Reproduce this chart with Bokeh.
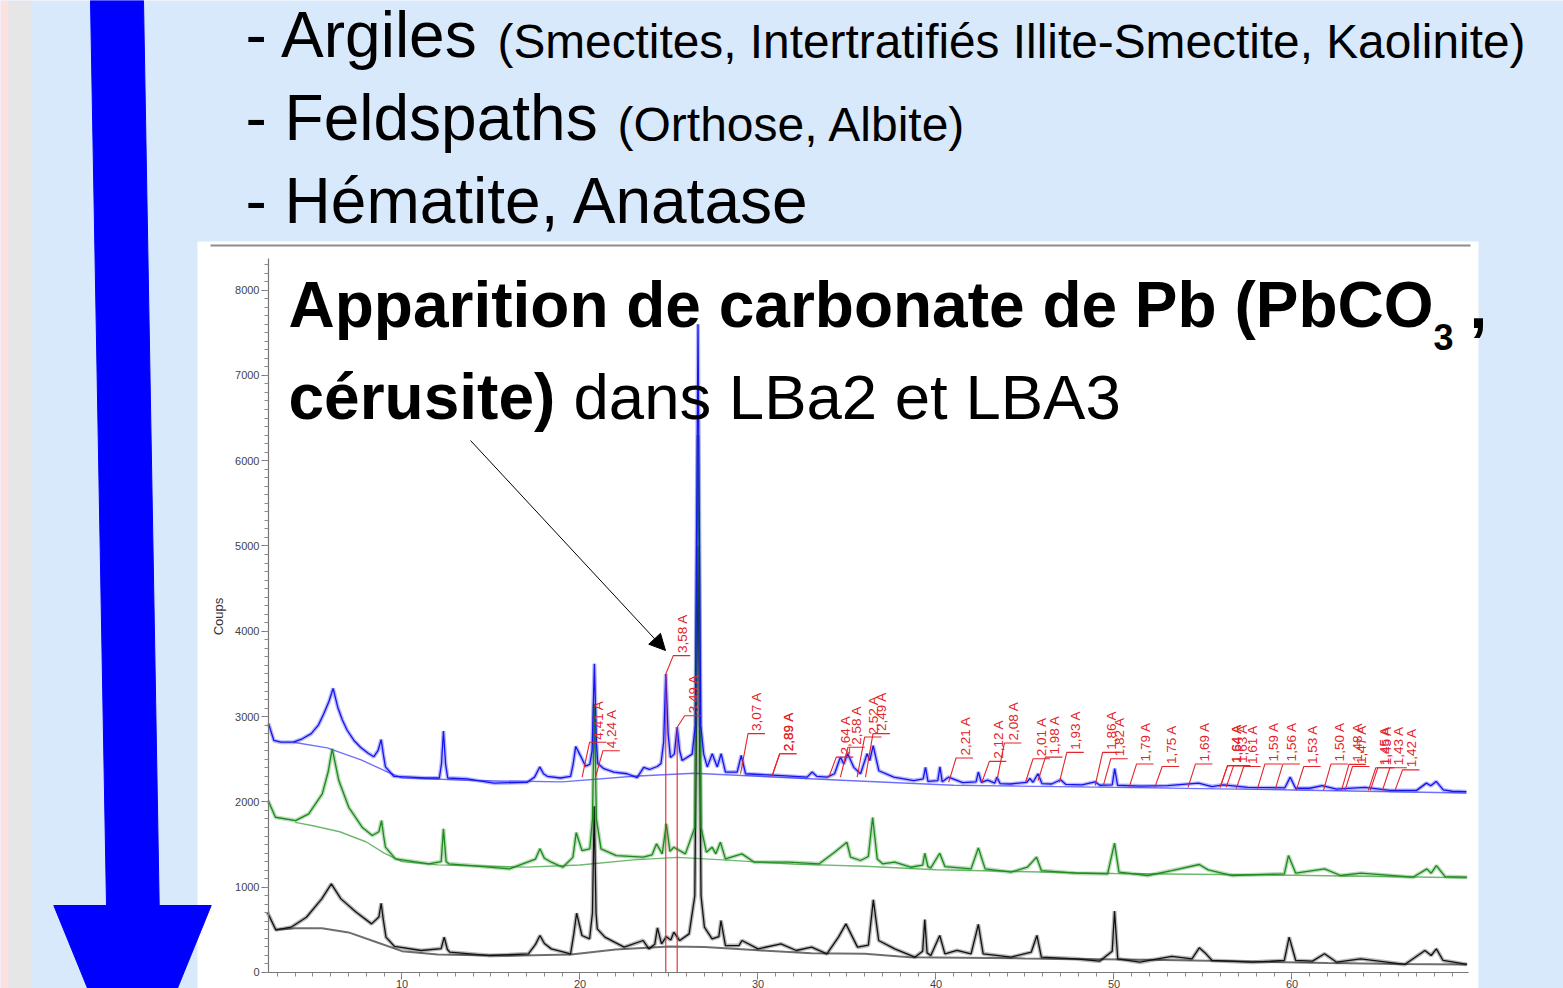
from math import pi
from bokeh.plotting import figure
from bokeh.models import Range1d, LinearAxis, FixedTicker, Arrow, NormalHead
from bokeh.core.properties import value
from bokeh.embed import file_html
from bokeh.resources import INLINE

# ---------------- data (2-theta in degrees, counts) ----------------
blue_pts = [(2.50, 2920), (2.80, 2720), (3.20, 2700), (3.90, 2700), (4.40, 2740), (4.90, 2800), (5.30, 2900),
            (5.60, 3030), (5.90, 3180), (6.13, 3330), (6.39, 3110), (6.65, 2960), (6.92, 2840), (7.30, 2720),
            (7.67, 2640), (8.10, 2570), (8.42, 2530), (8.65, 2600), (8.83, 2730), (8.95, 2560), (9.07, 2410),
            (9.54, 2300), (10.48, 2290), (11.30, 2280), (12.10, 2280), (12.22, 2450), (12.33, 2830), (12.45, 2440),
            (12.57, 2280), (13.66, 2270), (15.16, 2220), (17.03, 2230), (17.45, 2290), (17.74, 2410), (17.95, 2330),
            (18.16, 2300), (18.90, 2280), (19.47, 2300), (19.62, 2450), (19.76, 2650), (20.03, 2540), (20.31, 2420),
            (20.55, 2440), (20.68, 2600), (20.81, 3620), (20.92, 2700), (21.00, 2450), (21.34, 2390), (21.90, 2350),
            (22.65, 2330), (23.21, 2285), (23.58, 2405), (23.90, 2380), (24.34, 2415), (24.55, 2450), (24.70, 2700),
            (24.82, 3500), (24.95, 2800), (25.08, 2520), (25.30, 2560), (25.46, 2875), (25.60, 2600), (25.74, 2485),
            (26.30, 2560), (26.48, 2900), (26.63, 7600), (26.78, 2900), (26.95, 2560), (27.15, 2410), (27.43, 2565),
            (27.71, 2410), (27.93, 2565), (28.17, 2350), (28.83, 2350), (29.06, 2545), (29.30, 2330), (31.08, 2310),
            (32.76, 2290), (33.04, 2350), (33.30, 2300), (33.89, 2290), (34.30, 2330), (34.63, 2525), (34.82, 2445),
            (35.04, 2565), (35.38, 2405), (35.76, 2330), (36.13, 2565), (36.28, 2485), (36.47, 2660), (36.79, 2365),
            (37.63, 2290), (38.75, 2250), (39.28, 2270), (39.41, 2405), (39.55, 2240), (40.10, 2250), (40.22, 2410),
            (40.35, 2235), (40.70, 2290), (41.50, 2225), (42.25, 2235), (42.38, 2350), (42.55, 2230), (42.90, 2255),
            (43.30, 2220), (43.42, 2290), (43.60, 2215), (44.20, 2210), (45.10, 2230), (45.27, 2275), (45.45, 2230),
            (45.73, 2330), (45.95, 2215), (46.50, 2210), (47.00, 2260), (47.30, 2205), (48.20, 2200), (48.94, 2235),
            (49.20, 2195), (49.90, 2200), (50.04, 2390), (50.20, 2195), (51.50, 2185), (53.00, 2190), (54.75, 2220),
            (55.50, 2180), (56.15, 2200), (57.50, 2170), (59.60, 2165), (59.90, 2290), (60.20, 2160), (61.00, 2160),
            (61.70, 2190), (62.50, 2150), (64.10, 2170), (65.50, 2135), (67.00, 2135), (67.55, 2220), (67.80, 2190),
            (68.10, 2240), (68.50, 2140), (69.00, 2125), (69.80, 2120)]

green_pts = [(2.48, 2016), (2.89, 1820), (4.02, 1781), (4.76, 1860), (5.52, 2094), (5.85, 2350), (6.08, 2622),
             (6.45, 2250), (7.01, 1937), (7.76, 1703), (8.33, 1606), (8.70, 1650), (8.85, 1781), (8.97, 1600),
             (9.07, 1469), (9.63, 1332), (11.51, 1274), (12.20, 1300), (12.33, 1684), (12.48, 1300), (12.63, 1274),
             (13.88, 1254), (16.03, 1215), (17.50, 1330), (17.75, 1450), (18.00, 1340), (18.39, 1293), (19.03, 1234),
             (19.60, 1350), (19.79, 1640), (20.11, 1430), (20.55, 1450), (20.70, 1800), (20.81, 3150), (20.92, 1800),
             (21.18, 1450), (22.04, 1371), (23.55, 1352), (24.05, 1380), (24.30, 1508), (24.62, 1391), (24.85, 1743),
             (25.05, 1420), (25.27, 1469), (25.92, 1391), (26.45, 1700), (26.63, 6300), (26.80, 1700), (27.10, 1410),
             (27.42, 1469), (27.63, 1391), (27.89, 1527), (28.17, 1332), (29.10, 1391), (29.79, 1293), (31.72, 1293),
             (33.44, 1274), (34.30, 1410), (34.99, 1527), (35.20, 1352), (35.76, 1313), (36.20, 1360), (36.44, 1817),
             (36.70, 1330), (37.00, 1274), (37.68, 1293), (38.58, 1234), (39.25, 1260), (39.37, 1398), (39.55, 1240),
             (39.71, 1227), (40.21, 1398), (40.50, 1242), (41.97, 1215), (42.38, 1461), (42.76, 1215), (44.22, 1176),
             (45.13, 1234), (45.65, 1352), (45.92, 1195), (47.84, 1164), (49.64, 1157), (50.03, 1516), (50.28, 1176),
             (51.90, 1137), (53.25, 1195), (54.79, 1266), (55.29, 1203), (56.64, 1137), (59.57, 1157), (59.80, 1371),
             (60.21, 1164), (61.83, 1215), (62.73, 1137), (63.86, 1164), (66.80, 1117), (67.58, 1215), (67.82, 1164),
             (68.11, 1254), (68.60, 1125), (69.84, 1117)]

black_pts = [(2.44, 707), (2.91, 500), (3.77, 531), (4.63, 648), (5.49, 863), (6.03, 1039), (6.57, 863),
             (7.43, 707), (8.29, 570), (8.70, 650), (8.83, 812), (8.95, 620), (9.10, 414), (9.58, 305),
             (11.08, 258), (12.20, 280), (12.37, 414), (12.55, 270), (12.69, 238), (14.95, 199), (17.10, 219),
             (17.50, 330), (17.75, 434), (18.00, 340), (18.39, 277), (19.47, 219), (19.65, 450), (19.81, 695),
             (20.11, 434), (20.54, 395), (20.70, 700), (20.80, 1950), (20.90, 700), (20.97, 512), (21.40, 414),
             (22.48, 297), (23.55, 375), (23.87, 277), (24.20, 330), (24.35, 524), (24.58, 336), (24.85, 420),
             (25.10, 380), (25.27, 473), (25.60, 375), (26.13, 453), (26.45, 900), (26.63, 5000), (26.80, 900),
             (26.99, 531), (27.42, 395), (27.80, 420), (27.92, 609), (28.17, 316), (28.93, 316), (29.10, 375),
             (30.00, 277), (31.29, 336), (32.15, 258), (33.01, 297), (33.87, 219), (34.52, 414), (34.94, 570),
             (35.59, 297), (36.20, 320), (36.48, 852), (36.78, 375), (37.68, 277), (38.81, 180), (39.25, 250),
             (39.37, 621), (39.50, 230), (39.71, 199), (40.21, 434), (40.50, 219), (41.18, 258), (41.97, 219),
             (42.38, 563), (42.65, 219), (44.22, 180), (45.35, 238), (45.67, 434), (45.92, 180), (47.84, 160),
             (49.19, 133), (49.90, 250), (50.03, 719), (50.21, 160), (51.45, 121), (53.25, 188), (54.38, 160),
             (54.79, 289), (55.17, 219), (55.51, 141), (57.77, 121), (59.57, 141), (59.84, 414), (60.21, 141),
             (61.15, 133), (61.83, 219), (62.51, 121), (63.86, 160), (66.34, 94), (67.47, 258), (67.82, 199),
             (68.11, 277), (68.49, 141), (69.84, 94)]

blue_bg = [(3.9, 2700), (5.8, 2633), (7.7, 2493), (9.2, 2348), (10.0, 2282), (14.0, 2250), (19.0, 2235),
           (23.0, 2300), (26.4, 2336), (30.0, 2300), (35.0, 2250), (41.0, 2195), (50.0, 2170), (60.0, 2140),
           (69.8, 2105)]
green_bg = [(4.0, 1760), (5.0, 1720), (6.5, 1650), (8.0, 1530), (9.0, 1400), (10.0, 1300), (12.0, 1262),
            (17.0, 1235), (20.0, 1260), (23.0, 1320), (25.5, 1350), (28.0, 1320), (32.0, 1270), (36.0, 1245),
            (40.0, 1205), (50.0, 1160), (60.0, 1140), (69.8, 1110)]
black_bg = [(2.9, 500), (4.0, 520), (5.5, 520), (7.0, 470), (8.5, 360), (10.0, 250), (12.0, 210), (16.0, 195),
            (19.5, 210), (22.0, 270), (25.0, 305), (27.0, 300), (30.0, 260), (33.0, 225), (36.0, 220),
            (38.5, 180), (45.0, 165), (52.0, 150), (56.0, 135), (62.0, 110), (66.0, 100), (69.8, 95)]

# peak markers (d-spacing labels of the blue pattern)
mk_labels = ["4,41 A", "4,24 A", "3,58 A", "3,49 A", "3,07 A", "2,89 A", "2,89 A", "2,64 A", "2,58 A", "2,52 A",
             "2,49 A", "2,21 A", "2,12 A", "2,08 A", "2,01 A", "1,98 A", "1,93 A", "1,86 A", "1,82 A", "1,79 A",
             "1,75 A", "1,69 A", "1,64 A", "1,64 A", "1,63 A", "1,61 A", "1,59 A", "1,56 A", "1,53 A", "1,50 A",
             "1,48 A", "1,47 A", "1,45 A", "1,45 A", "1,43 A", "1,42 A"]
mk_2theta = [20.12, 20.87, 24.82, 25.46, 29.02, 30.80, 30.80, 33.98, 34.63, 35.57, 36.04, 40.71, 42.58, 43.42,
             45.03, 45.73, 46.93, 48.94, 49.40, 50.85, 52.29, 54.16, 55.96, 55.96, 56.30, 56.87, 58.06, 59.07,
             60.24, 61.77, 62.78, 62.98, 64.29, 64.40, 65.08, 65.79]
mk_base = [2290, 2290, 0, 0, 2330, 2310, 2310, 2290, 2290, 2290, 2290, 2230, 2230, 2250, 2230, 2250, 2230,
           2190, 2190, 2170, 2170, 2170, 2170, 2170, 2170, 2155, 2155, 2155, 2135, 2135, 2135, 2135, 2135,
           2135, 2135, 2135]
mk_stem = [2290, 2290, 3500, 2875, 2330, 2310, 2310, 2290, 2290, 2290, 2290, 2230, 2230, 2250, 2230, 2250, 2230,
           2190, 2190, 2170, 2170, 2170, 2170, 2170, 2170, 2155, 2155, 2155, 2135, 2135, 2135, 2135, 2135,
           2135, 2135, 2135]
mk_elbow = [2700, 2600, 3715, 3010, 2800, 2565, 2565, 2525, 2640, 2760, 2800, 2515, 2475, 2690, 2505, 2525, 2580,
            2580, 2505, 2445, 2415, 2445, 2425, 2425, 2425, 2415, 2445, 2445, 2415, 2445, 2440, 2415, 2400,
            2400, 2400, 2375]

x_ticks = [10, 20, 30, 40, 50, 60]
x_minor = list(range(3, 70))
y_ticks = [0, 1000, 2000, 3000, 4000, 5000, 6000, 7000, 8000]
y_minor = list(range(0, 8400, 100))

# ---------------- styles ----------------
BG = "#d9e9fc"
RED = "#e3242b"
FONT = "Liberation Sans"
W, H = 1563, 988

p = figure(width=W, height=H, x_range=Range1d(0, W), y_range=Range1d(H, 0),
           x_axis_type=None, y_axis_type=None, toolbar_location=None, output_backend="svg",
           min_border=0, title=None, background_fill_color=BG, border_fill_color=BG,
           outline_line_color=None)
p.extra_x_ranges = {"xrd": Range1d(-12.556, 75.253)}
p.extra_y_ranges = {"cnt": Range1d(-187.6, 11395)}

# slide decorations
p.quad(left=0, right=8, top=0, bottom=H, fill_color="#fde0e0", line_color=None)
p.quad(left=8, right=31, top=0, bottom=H, fill_color="#e6e6e6", line_color=None)
p.quad(left=197, right=1478, top=241, bottom=H + 2, fill_color="white", line_color=None)
p.segment(x0=210, y0=245, x1=1470, y1=245, line_color="#8c8c8c", line_width=2)

XR = dict(x_range_name="xrd", y_range_name="cnt")

def split(pts):
    return [a for a, _ in pts], [b for _, b in pts]

for pts, col, w in [(black_bg, "#6e6e6e", 2), (green_bg, "#6fb86f", 1.4), (blue_bg, "#7070ff", 1.4)]:
    xs, ys = split(pts)
    p.line(xs, ys, line_color=col, line_width=w, **XR)
for pts, col in [(black_pts, "#111111"), (green_pts, "#1b8a1b"), (blue_pts, "#1414f0")]:
    xs, ys = split(pts)
    p.line(xs, ys, line_color=col, line_width=4, line_alpha=0.3, **XR)
    p.line(xs, ys, line_color=col, line_width=1.3, **XR)

# peak markers
DX, HL, LX, LY = 0.42, 0.95, 0.5, 30
mxs = [[t, t, t + DX, t + DX + HL] for t in mk_2theta]
mys = [[b, s, e, e] for b, s, e in zip(mk_base, mk_stem, mk_elbow)]
p.multi_line(mxs, mys, line_color=RED, line_width=1.1, **XR)
p.text(x=[t + DX + LX for t in mk_2theta], y=[e + LY for e in mk_elbow], text=mk_labels,
       angle=pi / 2, text_align="left", text_baseline="middle", text_font_size="13.5px",
       text_color=RED, text_font=value(FONT), **XR)

# axes of the diffractogram
yaxis = LinearAxis(x_range_name="xrd", y_range_name="cnt", fixed_location=2.5, bounds=(0, 8370),
                   ticker=FixedTicker(ticks=y_ticks, minor_ticks=y_minor))
xaxis = LinearAxis(x_range_name="xrd", y_range_name="cnt", fixed_location=0, bounds=(2.5, 69.9),
                   ticker=FixedTicker(ticks=x_ticks, minor_ticks=x_minor))
for ax in (yaxis, xaxis):
    ax.axis_line_color = "#777777"
    ax.axis_line_width = 1.2
    ax.major_tick_line_color = "#777777"
    ax.minor_tick_line_color = "#888888"
    ax.major_tick_in = 0
    ax.major_tick_out = 7
    ax.minor_tick_in = 0
    ax.minor_tick_out = 4
    ax.major_label_text_font = FONT
    ax.major_label_text_font_size = "11px"
    ax.major_label_text_color = "#444444"
    ax.major_label_standoff = 2
xaxis.major_label_standoff = 1
p.add_layout(yaxis, "left")
p.add_layout(xaxis, "below")

p.text(x=[218], y=[616], text=["Coups"], angle=pi / 2, text_align="center", text_baseline="middle",
       text_font_size="13px", text_color="#333333", text_font=value(FONT))

# blue arrow
p.patch([90, 143, 158.7, 210.7, 132, 53.3, 106], [0, 0, 905, 905, 1098, 905, 905],
        fill_color="#0000ff", line_color="#0000ff")

# slide texts (y given as baseline, corrected for the renderer's baseline offset)
def txt(x, base, s, size, bold=False):
    p.text(x=[x], y=[base - 0.395 * size], text=[s], text_font=value(FONT), text_font_size=f"{size}px",
           text_font_style="bold" if bold else "normal", text_color="black",
           text_align="left", text_baseline="alphabetic")

txt(245, 60, "- Argiles", 64)
txt(497, 60, "(Smectites, Intertratifiés Illite-Smectite, Kaolinite)", 47.8)
txt(245, 143, "- Feldspaths", 64)
txt(617, 143, "(Orthose, Albite)", 48)
txt(245, 226, "- Hématite, Anatase", 64)
txt(288, 330, "Apparition de carbonate de Pb (PbCO", 64, bold=True)
txt(1433, 351, "3", 36, bold=True)
txt(1469, 330, ",", 64, bold=True)
txt(288, 422, "cérusite)", 64, bold=True)
txt(573, 422, "dans LBa2 et LBA3", 63.5)

p.add_layout(Arrow(end=NormalHead(size=16, fill_color="black", line_color="black"),
                   x_start=470, y_start=440, x_end=665, y_end=650,
                   line_color="black", line_width=1))

open("out.html", "w").write(file_html(p, INLINE))
